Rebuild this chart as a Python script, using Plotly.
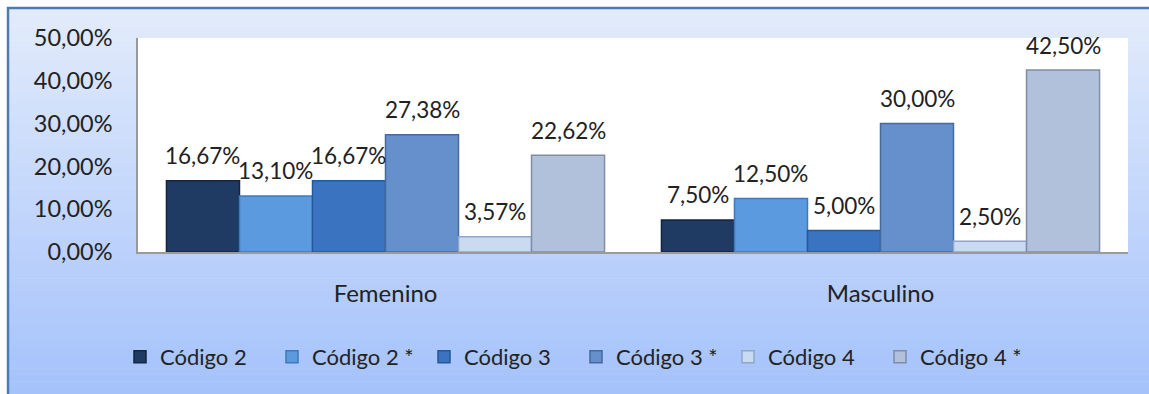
import plotly.graph_objects as go

# --- data -----------------------------------------------------------------
categories = ["Femenino", "Masculino"]
series_names = ["Código 2", "Código 2 *", "Código 3", "Código 3 *", "Código 4", "Código 4 *"]
codigo_2 = [16.67, 7.50]
codigo_2_ast = [13.10, 12.50]
codigo_3 = [16.67, 5.00]
codigo_3_ast = [27.38, 30.00]
codigo_4 = [3.57, 2.50]
codigo_4_ast = [22.62, 42.50]
y_ticks = [0, 10, 20, 30, 40, 50]
y_tick_labels = ["0,00%", "10,00%", "20,00%", "30,00%", "40,00%", "50,00%"]

series_values = [codigo_2, codigo_2_ast, codigo_3, codigo_3_ast, codigo_4, codigo_4_ast]

# --- style ----------------------------------------------------------------
fills = ["#1f3b63", "#5b9ade", "#3a74c0", "#6690cc", "#c9daf1", "#b2c1db"]
edges = ["#14263f", "#3f79bd", "#27589a", "#46699e", "#8ea6c8", "#7f8da6"]
FONT = "Lato, Calibri, Carlito, sans-serif"

W, H = 1149, 394
L, R, T, B = 138, 21, 38, 142
PW, PH = W - L - R, H - T - B
BARGAP = 0.115


def px_x(x):
    return (x - L) / PW


def px_y(y):
    return 1 - (y - T) / PH


def mix(c1, c2, t):
    a = [int(c1[i:i + 2], 16) for i in (1, 3, 5)]
    b = [int(c2[i:i + 2], 16) for i in (1, 3, 5)]
    return "#" + "".join(f"{round(a[k] + (b[k] - a[k]) * t):02x}" for k in range(3))


fig = go.Figure()

for name, vals, fc, ec in zip(series_names, series_values, fills, edges):
    fig.add_trace(go.Bar(
        name=name, x=categories, y=vals,
        marker=dict(color=fc, line=dict(color=ec, width=1.5)),
        hoverinfo="skip",
    ))

# value labels above each bar, positioned from the grouped-bar geometry
n = len(series_values)
bw = (1 - BARGAP) / n
annotations = []
for i, vals in enumerate(series_values):
    off = -(1 - BARGAP) / 2 + (i + 0.5) * bw
    for c, v in enumerate(vals):
        annotations.append(dict(
            x=c + off, y=v, xref="x", yref="y",
            text=f"{v:.2f}".replace(".", ",") + "%",
            showarrow=False, yanchor="middle", yshift=25,
            font=dict(family=FONT, size=22.5, color="#222222"),
        ))

# chart-area background: light-to-mid blue vertical gradient with a frame edge
shapes = []
top_c, bot_c = "#e2ebfb", "#a5c2fb"
y0_px, y1_px = 8, H
steps = 60
for s in range(steps):
    ya = y0_px + (y1_px - y0_px) * s / steps
    yb = y0_px + (y1_px - y0_px) * (s + 1) / steps + 0.6
    shapes.append(dict(
        type="rect", xref="paper", yref="paper", layer="below",
        x0=px_x(8), x1=px_x(W + 2), y0=px_y(yb), y1=px_y(ya),
        fillcolor=mix(top_c, bot_c, s / (steps - 1)), line=dict(width=0),
    ))
# frame lines (top and left)
shapes.append(dict(type="line", xref="paper", yref="paper", layer="below",
                   x0=px_x(7), x1=px_x(W + 2), y0=px_y(8), y1=px_y(8),
                   line=dict(color="#4a7bb4", width=2.5)))
shapes.append(dict(type="line", xref="paper", yref="paper", layer="below",
                   x0=px_x(8), x1=px_x(8), y0=px_y(7), y1=px_y(H + 2),
                   line=dict(color="#4a7bb4", width=2.5)))
# white plotting area
shapes.append(dict(type="rect", xref="paper", yref="paper", layer="below",
                   x0=0, x1=1, y0=0, y1=1, fillcolor="#ffffff", line=dict(width=0)))

fig.update_layout(
    width=W, height=H,
    margin=dict(l=L, r=R, t=T, b=B, autoexpand=False),
    paper_bgcolor="#ffffff",
    plot_bgcolor="rgba(0,0,0,0)",
    barmode="group", bargap=BARGAP, bargroupgap=0,
    font=dict(family=FONT, size=22, color="#222222"),
    showlegend=True,
    legend=dict(
        orientation="h", x=px_x(120), xanchor="left", y=px_y(357), yanchor="middle",
        font=dict(family=FONT, size=22, color="#222222"),
        bgcolor="rgba(0,0,0,0)", itemwidth=30, entrywidth=107, entrywidthmode="pixels",
        traceorder="normal",
    ),
    shapes=shapes,
    annotations=annotations,
)

fig.update_xaxes(
    showgrid=False, showline=True, linecolor="#9a9a9a", linewidth=1.5,
    ticks="", tickfont=dict(family=FONT, size=24, color="#222222"),
    ticklabelstandoff=19, fixedrange=True,
)
fig.update_yaxes(
    range=[0, 50], tickvals=y_ticks, ticktext=y_tick_labels,
    showgrid=False, zeroline=False, showline=True, linecolor="#9a9a9a", linewidth=1.5,
    ticks="", tickfont=dict(family=FONT, size=23.5, color="#222222"),
    ticklabelstandoff=19, fixedrange=True,
)

fig.write_html("out.html", config={"displayModeBar": False})
